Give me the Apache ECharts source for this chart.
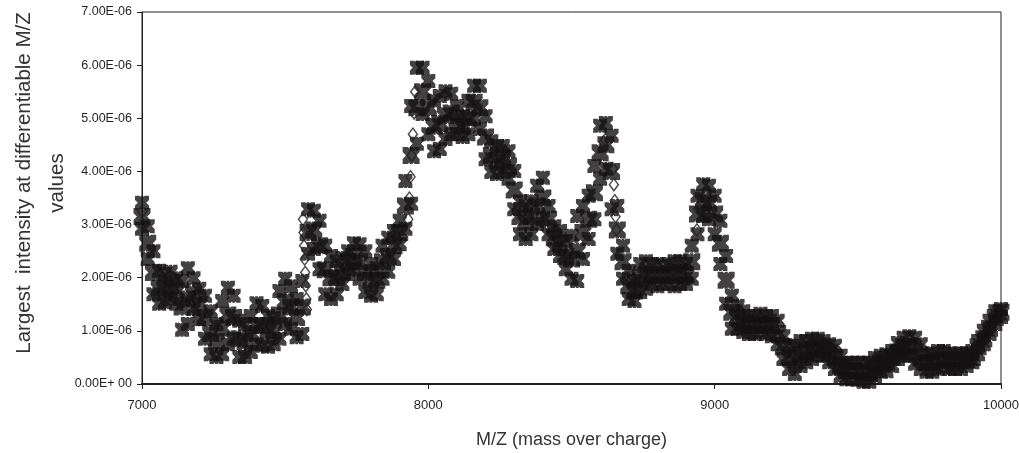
<!DOCTYPE html>
<html>
<head>
<meta charset="utf-8">
<script src="https://cdn.jsdelivr.net/npm/echarts@6/dist/echarts.min.js"></script>
<style>
html,body{margin:0;padding:0;background:#fff;}
#chart{width:1019px;height:453px;}
</style>
</head>
<body>
<div id="chart"></div>
<script>
// M/Z sampling grid
const MZ_START = 7000;
const MZ_STEP = 20;
const UNIT = 1e-6;

// Upper edge of the marker band (x 1e-6)
const upperBand = [
  3.41,2.97,2.50,2.13,2.07,2.11,1.99,1.94,2.18,1.99,
  1.79,1.66,1.37,1.13,1.56,1.81,1.66,1.19,1.13,1.28,
  1.52,1.47,1.28,1.24,1.75,1.98,1.84,1.60,1.94,3.29,
  3.26,3.07,2.60,2.41,2.31,2.37,2.50,2.65,2.63,2.50,
  2.26,2.18,2.60,2.75,2.88,3.07,3.82,5.23,5.95,5.95,
  5.70,5.33,5.42,5.51,5.46,5.23,5.04,5.33,5.61,5.61,
  5.04,4.57,4.48,4.48,4.38,4.01,3.44,3.35,3.44,3.73,
  3.88,3.35,2.97,2.88,2.69,2.79,3.16,3.35,3.54,4.10,
  4.86,4.91,4.67,3.35,2.60,2.13,1.94,2.26,2.31,2.26,
  2.26,2.22,2.26,2.31,2.31,2.26,2.60,3.54,3.76,3.73,
  3.54,3.07,2.41,1.66,1.47,1.37,1.28,1.28,1.32,1.28,
  1.28,1.19,0.90,0.72,0.72,0.81,0.81,0.85,0.85,0.81,
  0.75,0.72,0.53,0.40,0.40,0.40,0.40,0.40,0.49,0.53,
  0.56,0.62,0.77,0.87,0.90,0.87,0.75,0.56,0.58,0.62,
  0.62,0.58,0.56,0.58,0.58,0.62,0.81,1.00,1.19,1.37,
  1.41
];

// Centre of the marker band (x 1e-6)
const middleBand = [
  3.15,2.65,2.10,1.80,1.80,1.85,1.75,1.45,1.60,1.70,
  1.50,1.25,0.95,0.80,1.05,1.30,1.25,0.85,0.80,0.95,
  1.10,1.10,1.00,1.00,1.30,1.55,1.45,1.25,1.45,2.85,
  2.90,2.60,2.15,2.00,2.00,2.10,2.30,2.40,2.30,2.10,
  1.95,1.95,2.30,2.40,2.60,2.85,3.35,4.30,5.20,5.50,
  5.20,4.85,4.90,5.05,5.10,4.95,4.85,5.00,5.30,5.20,
  4.65,4.30,4.20,4.25,4.10,3.65,3.15,3.05,3.15,3.35,
  3.50,3.10,2.75,2.65,2.40,2.35,2.50,2.85,3.10,3.60,
  4.35,4.50,4.00,2.90,2.30,1.85,1.75,2.00,2.05,2.05,
  2.05,2.05,2.05,2.05,2.10,2.05,2.30,3.20,3.45,3.40,
  3.20,2.65,1.95,1.35,1.25,1.15,1.10,1.10,1.15,1.10,
  1.10,0.95,0.70,0.50,0.45,0.55,0.60,0.65,0.70,0.65,
  0.60,0.50,0.35,0.25,0.25,0.25,0.20,0.20,0.30,0.40,
  0.40,0.50,0.60,0.70,0.70,0.60,0.50,0.40,0.40,0.45,
  0.45,0.45,0.40,0.45,0.45,0.50,0.70,0.85,1.05,1.25,
  1.35
];

// Lower edge of the marker band (x 1e-6)
const lowerBand = [
  2.92,2.35,1.69,1.51,1.54,1.60,1.51,1.02,1.13,1.41,
  1.22,0.85,0.56,0.51,0.56,0.75,0.85,0.51,0.51,0.60,
  0.75,0.72,0.70,0.75,0.85,1.13,1.04,0.88,0.94,2.45,
  2.54,2.16,1.69,1.60,1.69,1.88,2.07,2.16,1.98,1.73,
  1.66,1.69,1.98,2.11,2.35,2.63,2.92,3.39,4.52,5.08,
  4.70,4.38,4.42,4.61,4.70,4.70,4.65,4.70,4.99,4.80,
  4.23,3.99,3.95,3.99,3.86,3.29,2.82,2.73,2.82,3.01,
  3.10,2.82,2.54,2.41,2.16,1.98,1.94,2.35,2.73,3.10,
  3.86,4.05,3.29,2.45,1.98,1.60,1.56,1.73,1.79,1.88,
  1.84,1.88,1.88,1.84,1.88,1.88,1.98,2.82,3.16,3.10,
  2.82,2.26,1.51,1.04,1.04,0.98,0.94,0.94,0.98,0.94,
  0.90,0.75,0.47,0.28,0.19,0.34,0.41,0.47,0.53,0.53,
  0.41,0.28,0.15,0.09,0.09,0.08,0.04,0.04,0.15,0.23,
  0.24,0.34,0.47,0.53,0.53,0.38,0.28,0.23,0.23,0.28,
  0.32,0.28,0.28,0.28,0.34,0.41,0.56,0.75,0.94,1.13,
  1.26
];

// Visible diamond markers on the steep flanks
const diamondMz = [7000,7003,7562,7564,7566,7568,7570,7572,7574,7576,
  7930,7934,7938,7942,7946,7950,7954,8612,8618,8645,8648,8651,8654,8657,8938,8942];
const diamondVal = [3.25,3.00,3.10,2.85,2.60,2.35,2.10,1.85,1.60,1.40,
  3.10,3.50,3.90,4.30,4.70,5.10,5.50,4.55,4.60,4.05,3.75,3.45,3.15,2.90,2.90,3.30];

// Axis ticks
const xTicks = [7000, 8000, 9000, 10000];
const yMax = 7e-6, yInterval = 1e-6;

const INK = '#231f20';
const MARK = '#151213';
const FONT = 'Liberation Sans, Arial, sans-serif';
const X_PATH = 'path://M0,0 L3,0 L5,2 L7,0 L10,0 L10,3 L8,5 L10,7 L10,10 L7,10 L5,8 L3,10 L0,10 L0,7 L2,5 L0,3 Z';
const STAR_PATH = X_PATH + ' M4,0 L6,0 L6,10 L4,10 Z';

function toPairs(arr) {
  return arr.map((v, i) => [MZ_START + i * MZ_STEP, v * UNIT]);
}

function fmtSci(v) {
  if (Math.abs(v) < 1e-15) return '0.00E+ 00';
  let e = Math.floor(Math.log10(Math.abs(v)) + 1e-9);
  let m = v / Math.pow(10, e);
  if (m >= 9.995) { m /= 10; e += 1; }
  const sign = e < 0 ? '-' : '+';
  const ae = Math.abs(e);
  return m.toFixed(2) + 'E' + sign + (ae < 10 ? '0' + ae : '' + ae);
}

const chart = echarts.init(document.getElementById('chart'));
chart.setOption({
  animation: false,
  backgroundColor: '#fff',
  textStyle: { fontFamily: FONT },
  grid: {
    left: 142, right: 18, top: 12, bottom: 69,
    containLabel: false, outerBoundsMode: 'none',
    show: true, borderColor: INK, borderWidth: 1, backgroundColor: 'transparent'
  },
  xAxis: {
    type: 'value',
    min: xTicks[0], max: xTicks[xTicks.length - 1], interval: 1000,
    name: 'M/Z (mass over charge)',
    nameLocation: 'middle', nameGap: 47, nameMoveOverlap: false,
    nameTextStyle: { fontSize: 18, color: '#333', fontFamily: FONT },
    axisLine: { show: true, lineStyle: { color: INK, width: 2 } },
    axisTick: { show: true, length: 5, lineStyle: { color: INK } },
    axisLabel: { fontSize: 13, color: INK, margin: 15, showMinLabel: true, showMaxLabel: true,
      formatter: v => String(Math.round(v)) },
    splitLine: { show: false }
  },
  yAxis: {
    type: 'value',
    min: 0, max: yMax, interval: yInterval,
    name: 'Largest  intensity at differentiable M/Z\nvalues',
    nameLocation: 'middle', nameGap: 68, nameMoveOverlap: false,
    nameTextStyle: { fontSize: 20.5, color: '#333', lineHeight: 33, align: 'center',
      padding: [0, 0, 0, 30], fontFamily: FONT },
    axisLine: { show: true, lineStyle: { color: INK, width: 1 } },
    axisTick: { show: true, length: 5, lineStyle: { color: INK } },
    axisLabel: { fontSize: 12.5, color: INK, margin: 10, formatter: fmtSci },
    splitLine: { show: false }
  },
  series: [
    { type: 'scatter', data: toPairs(middleBand), symbol: STAR_PATH, symbolSize: 17,
      itemStyle: { color: MARK }, z: 2 },
    { type: 'scatter', data: toPairs(upperBand), symbol: STAR_PATH, symbolSize: 14,
      itemStyle: { color: MARK }, z: 3 },
    { type: 'scatter', data: toPairs(lowerBand), symbol: STAR_PATH, symbolSize: 14,
      itemStyle: { color: MARK }, z: 3 },
    { type: 'scatter', data: diamondMz.map((m, i) => [m, diamondVal[i] * UNIT]),
      symbol: 'diamond', symbolSize: [9, 12],
      itemStyle: { color: 'rgba(255,255,255,0)', borderColor: INK, borderWidth: 1.5 }, z: 4 }
  ]
});
</script>
</body>
</html>
